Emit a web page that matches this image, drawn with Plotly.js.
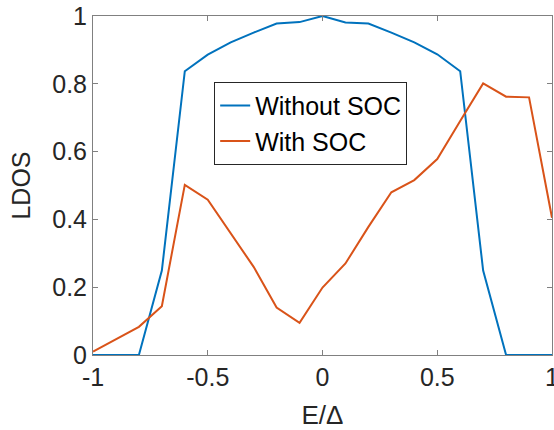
<!DOCTYPE html>
<html>
<head>
<meta charset="utf-8">
<script src="https://cdn.plot.ly/plotly-3.0.1.min.js"></script>
<style>html,body{margin:0;padding:0;background:#fff}</style>
</head>
<body>
<div id="chart" style="width:554px;height:430px"></div>
<script>
const energy = [-1, -0.9, -0.8, -0.7, -0.6, -0.5, -0.4, -0.3, -0.2, -0.1, 0, 0.1, 0.2, 0.3, 0.4, 0.5, 0.6, 0.7, 0.8, 0.9, 1];
const withoutSOC = [0, 0, 0, 0.249, 0.837, 0.886, 0.922, 0.951, 0.978, 0.982, 1.0, 0.981, 0.978, 0.951, 0.922, 0.887, 0.837, 0.249, 0, 0, 0];
const withSOC = [0.01, 0.046, 0.083, 0.144, 0.502, 0.458, 0.36, 0.26, 0.14, 0.095, 0.199, 0.27, 0.378, 0.48, 0.516, 0.578, 0.69, 0.801, 0.762, 0.76, 0.405];
const xTickVals = [-1, -0.5, 0, 0.5, 1];
const xTickText = ["-1", "-0.5", "0", "0.5", "1"];
const yTickVals = [0, 0.2, 0.4, 0.6, 0.8, 1];
const yTickText = ["0", "0.2", "0.4", "0.6", "0.8", "1"];

const FONT = "Liberation Sans, Arial, sans-serif";
const axisCommon = {
  showgrid: false, zeroline: false, showline: true, linecolor: "#808080", linewidth: 1,
  mirror: "ticks", ticks: "inside", ticklen: 5, tickcolor: "#808080", tickwidth: 1,
  tickfont: {family: FONT, size: 25, color: "#262626"}, tickmode: "array",
  ticklabeloverflow: "allow"
};
const traces = [
  {x: energy, y: withoutSOC, mode: "lines", name: "Without SOC", line: {color: "#0072BD", width: 2}},
  {x: energy, y: withSOC, mode: "lines", name: "With SOC", line: {color: "#D95319", width: 2}}
];
const layout = {
  width: 554, height: 430,
  margin: {l: 93, r: 2, t: 16, b: 75},
  paper_bgcolor: "#fff", plot_bgcolor: "#fff",
  showlegend: true,
  legend: {x: 0.264, y: 0.806, xanchor: "left", yanchor: "top", bgcolor: "#fff",
    bordercolor: "#262626", borderwidth: 1, font: {family: FONT, size: 25, color: "#000"},
    tracegroupgap: 0, itemwidth: 30},
  xaxis: Object.assign({}, axisCommon, {range: [-1, 1], tickvals: xTickVals, ticktext: xTickText,
    title: {text: "E/Δ", font: {family: FONT, size: 26, color: "#262626"}, standoff: 27}}),
  yaxis: Object.assign({}, axisCommon, {range: [0, 1], tickvals: yTickVals, ticktext: yTickText,
    title: {text: "LDOS", font: {family: FONT, size: 25, color: "#262626"}, standoff: 14}})
};
Plotly.newPlot("chart", traces, layout, {displayModeBar: false, staticPlot: true});
</script>
</body>
</html>
